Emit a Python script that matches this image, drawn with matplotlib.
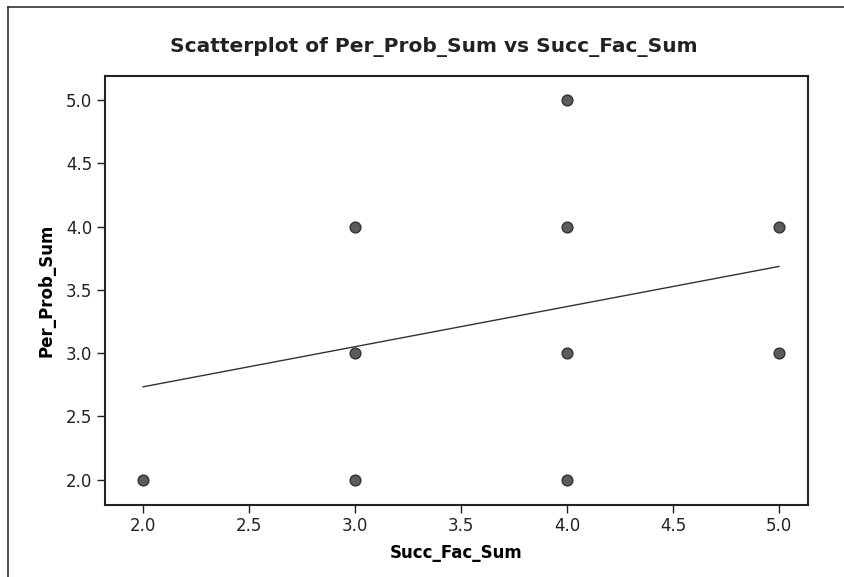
import matplotlib
matplotlib.use("Agg")
import matplotlib.pyplot as plt
from matplotlib.lines import Line2D

succ_fac_sum = [2, 3, 3, 3, 4, 4, 4, 4, 5, 5]
per_prob_sum = [2, 2, 3, 4, 2, 3, 4, 5, 3, 4]
fit_intercept = 2.1
fit_slope = 0.317
x_ticks = [2.0, 2.5, 3.0, 3.5, 4.0, 4.5, 5.0]
y_ticks = [2.0, 2.5, 3.0, 3.5, 4.0, 4.5, 5.0]

plt.rcParams["font.family"] = ["DejaVu Sans"]

fig = plt.figure(figsize=(8.44, 5.77), dpi=100)
ax = fig.add_axes([0.1244, 0.1248, 0.8329, 0.7435])

ax.scatter(
    succ_fac_sum,
    per_prob_sum,
    s=60,
    color="#5c5c5c",
    edgecolors="#333333",
    linewidths=1.0,
    zorder=3,
)

x0, x1 = min(succ_fac_sum), max(succ_fac_sum)
ax.plot(
    [x0, x1],
    [fit_intercept + fit_slope * x0, fit_intercept + fit_slope * x1],
    color="#333333",
    linewidth=1.0,
    zorder=2,
)

ax.set_xlim(1.82, 5.137)
ax.set_ylim(1.80, 5.19)
ax.set_xticks(x_ticks)
ax.set_yticks(y_ticks)
ax.set_xticklabels([f"{v:.1f}" for v in x_ticks])
ax.set_yticklabels([f"{v:.1f}" for v in y_ticks])
ax.tick_params(direction="out", length=6, width=1, labelsize=12,
               colors="#222222", pad=3)
for side in ["top", "right", "bottom", "left"]:
    ax.spines[side].set_linewidth(1.5)
    ax.spines[side].set_color("#222222")

ax.set_xlabel("Succ_Fac_Sum", fontsize=12, fontweight="bold", labelpad=6)
ax.set_ylabel("Per_Prob_Sum", fontsize=12, fontweight="bold", labelpad=8)
fig.text(0.514, 0.918, "Scatterplot of Per_Prob_Sum vs Succ_Fac_Sum",
         ha="center", va="center", fontsize=14.5, fontweight="bold",
         color="#222222")

# outer frame lines
fig.add_artist(Line2D([0.0095, 0.0095], [0.0, 0.988], transform=fig.transFigure,
                      color="#333333", linewidth=1.2))
fig.add_artist(Line2D([0.0095, 1.0], [0.988, 0.988], transform=fig.transFigure,
                      color="#333333", linewidth=1.2))

fig.savefig("out.png", dpi=100)
